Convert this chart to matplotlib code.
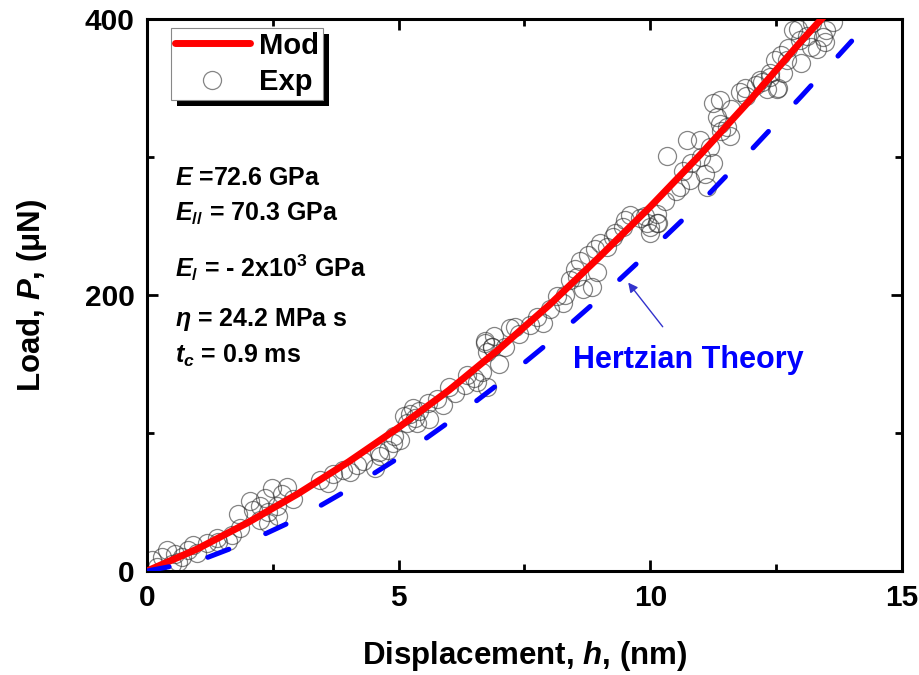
import matplotlib
matplotlib.use("Agg")
import matplotlib.pyplot as plt
from matplotlib.patches import Rectangle

plt.rcParams['font.family'] = ['Liberation Sans', 'DejaVu Sans']
plt.rcParams['mathtext.fontset'] = 'custom'
plt.rcParams['mathtext.rm'] = 'Liberation Sans:bold'
plt.rcParams['mathtext.it'] = 'Liberation Sans:italic:bold'
plt.rcParams['mathtext.bf'] = 'Liberation Sans:bold'

# Modelo (linha vermelha)
h_mod = [0, 1, 2, 3, 4, 5, 6, 7, 8, 9, 10, 11, 12, 13, 13.45]
P_mod = [0, 16, 35, 56, 79, 104, 131, 161, 193, 228, 264, 302, 342, 384, 402]

# Teoria de Hertz (tracejada azul)
h_hz = [0, 1, 2, 3, 4, 5, 6, 7, 8, 9, 10, 11, 12, 13, 14]
P_hz = [0, 7, 21, 38, 59, 82, 108, 136, 166, 198, 232, 267, 305, 344, 384]

# Pontos experimentais
h_exp = [0.09, 0.39, 0.56, 0.62, 0.92, 0.82, 1.39, 1.41, 1.69, 1.81, 2.05, 1.85, 2.25, 2.25,
         2.34, 2.40, 2.48, 2.68, 2.78, 2.40, 2.58,
         3.44, 3.70, 3.90, 4.03, 4.17, 4.53, 4.63, 4.79, 4.89, 5.03, 5.17, 5.23, 5.32, 5.29,
         5.36, 5.58, 5.76, 5.88, 6.12, 6.32, 6.36, 6.56, 6.66, 6.72, 6.85, 6.76,
         6.72, 6.85, 6.76, 7.11, 7.21, 7.31, 7.75, 7.87, 8.15, 8.27, 8.40, 8.54, 8.66, 8.84,
         8.60, 8.76, 8.94, 9.14, 9.00, 9.26, 9.46, 9.93, 9.99, 10.13, 9.80,
         9.50, 9.89, 10.13, 9.99, 10.15, 10.33, 10.65, 10.59, 10.79, 10.73, 10.99, 11.09,
         11.13, 11.19, 11.25, 11.33, 11.38, 11.25, 11.52, 11.58, 11.38, 11.78, 12.18, 12.32,
         12.52, 12.38, 12.64,
         11.88, 12.22, 12.38, 12.54, 12.48, 12.74, 12.72, 12.97, 12.93, 13.11, 13.21, 13.43,
         13.47, 13.31, 12.84, 13.63,
         0.20, 0.30, 0.50, 0.70, 1.00, 1.20, 1.60, 2.10, 2.60, 2.90, 3.60, 4.30, 4.60, 4.90,
         5.10, 5.40, 5.60, 6.00, 6.50, 6.90, 7.00, 7.40, 7.60, 8.00, 8.30, 8.50, 8.90, 9.30,
         9.60, 10.30, 10.50, 10.80, 11.00, 11.40, 11.60, 11.90, 12.10, 12.60, 13.00, 13.20,
         13.50]
P_exp = [8, 15, 12, 6.5, 19, 15, 24, 21, 26, 41, 51, 31, 47, 37,
         53, 43, 60, 56, 61, 35, 47,
         66, 70, 73, 72, 77, 75, 83, 88, 93, 95, 107, 114, 111, 118,
         107, 122, 125, 120, 129, 135, 142, 137, 144, 165, 162, 133,
         167, 162, 159, 162, 176, 177, 184, 180, 199, 194, 211, 213, 204, 206,
         225, 229, 217, 235, 238, 242, 249, 252, 245, 252, 256,
         254, 257, 259, 249, 252, 301, 290, 278, 283, 312, 312, 288,
         278, 307, 339, 329, 341, 296, 322, 315, 324, 347, 356, 349,
         349, 361, 361,
         350, 354, 358, 350, 370, 379, 370, 385, 393, 388, 397, 387,
         383, 378, 392, 398,
         3, 10, 5, 10, 13, 20, 22, 44, 40, 52, 64, 80, 86, 98,
         112, 116, 110, 133, 140, 170, 150, 172, 178, 190, 200, 219, 233, 245,
         258, 268, 275, 296, 300, 319, 335, 344, 352, 374, 368, 380,
         392]

fig = plt.figure(figsize=(9.2, 6.75), dpi=100)
ax = fig.add_axes([147/920, 1 - 571/675, 755/920, 552/675])

ax.plot(h_exp, P_exp, 'o', mfc='none', mec=(0.2, 0.2, 0.2, 0.6), mew=0.9, ms=13,
        label='Exp', zorder=2)
ax.plot(h_mod, P_mod, '-', color='#ff0000', lw=5, solid_capstyle='round',
        label='Mod', zorder=3)
ax.plot(h_hz, P_hz, '--', color='#0000ff', lw=3.6, dashes=(4.5, 8),
        dash_capstyle='round', zorder=3)

ax.set_xlim(0, 15)
ax.set_ylim(0, 400)
ax.set_xticks([0, 5, 10, 15])
ax.set_xticks([2.5, 7.5, 12.5], minor=True)
ax.set_yticks([0, 200, 400])
ax.set_yticks([100, 300], minor=True)
ax.tick_params(which='both', direction='in', top=True, right=True, width=2,
               labelsize=21.5, pad=9)
ax.tick_params(which='major', length=8)
ax.tick_params(which='minor', length=5)
for lab in ax.get_xticklabels() + ax.get_yticklabels():
    lab.set_fontweight('bold')
for sp in ax.spines.values():
    sp.set_linewidth(2.2)

ax.set_xlabel('Displacement, $h$, (nm)', fontsize=22.5, fontweight='bold', labelpad=20)
ax.set_ylabel('Load, $P$, (μN)', fontsize=22.5, fontweight='bold', labelpad=26)

# Parâmetros do modelo
tx = 0.55
fs = 18
ax.text(tx, 285, '$E$ =72.6 GPa', fontsize=fs, fontweight='bold', va='center')
ax.text(tx, 259, '$E_{//}$ = 70.3 GPa', fontsize=fs, fontweight='bold', va='center')
ax.text(tx, 220, '$E_{/}$ = - 2x10$^{3}$ GPa', fontsize=fs, fontweight='bold', va='center')
ax.text(tx, 182, r'$\eta$ = 24.2 MPa s', fontsize=fs, fontweight='bold', va='center')
ax.text(tx, 156, '$t_{c}$ = 0.9 ms', fontsize=fs, fontweight='bold', va='center')

ax.annotate('Hertzian Theory', xy=(9.56, 209), xytext=(10.76, 153),
            fontsize=22, fontweight='bold', color='#0000ff', ha='center', va='center',
            arrowprops=dict(arrowstyle='-|>', color='#3333cc', lw=1,
                            mutation_scale=14, shrinkA=14, shrinkB=0))

leg = ax.legend(handles=ax.get_lines()[1::-1], loc='upper left',
                bbox_to_anchor=(171/920, 1 - 28/675), bbox_transform=fig.transFigure,
                borderaxespad=0, prop={'weight': 'bold', 'size': 21},
                frameon=True, fancybox=False, edgecolor='#888888', framealpha=1,
                handlelength=2.6, handletextpad=0.3, borderpad=0.12,
                labelspacing=0.3)
leg.get_frame().set_linewidth(0.8)

# sombra preta da legenda
fig.canvas.draw()
bb = leg.get_window_extent().transformed(fig.transFigure.inverted())
off_x, off_y = 6/920, 6/675
ax.add_patch(Rectangle((bb.x0 + off_x, bb.y0 - off_y), bb.width, bb.height,
                       transform=fig.transFigure, facecolor='black', edgecolor='none',
                       clip_on=False, zorder=4.9))

fig.savefig('out.png', dpi=100)
